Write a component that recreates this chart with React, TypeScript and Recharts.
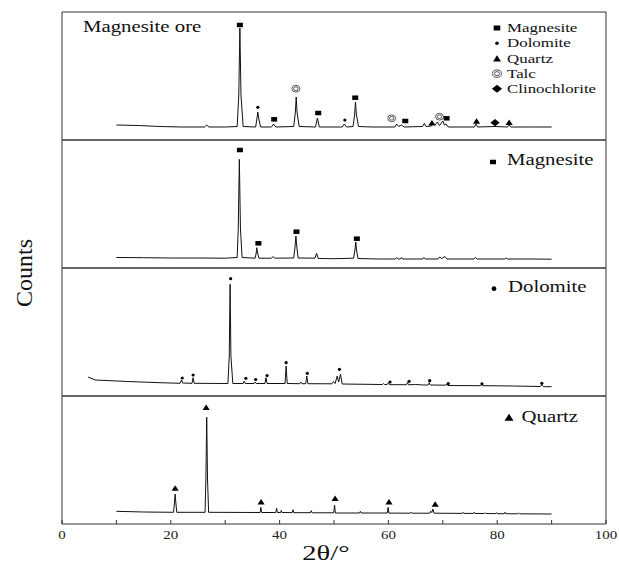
import { ComposedChart, Line, Scatter, XAxis, YAxis, ReferenceArea } from "recharts";

type Pt = [number, number];
type Mark = [number, number, string];

// 2θ (deg) vs relative counts, one array per sample
const ORE: Pt[] = [
  [10, 15], [14, 14.5], [18, 13.5], [22, 13], [26.2, 13], [26.6, 15], [27, 13], [30, 13],
  [32.2, 13.5], [32.5, 45], [32.7, 112], [32.9, 45], [33.3, 13.5],
  [35.6, 13], [35.85, 22], [36.0, 28], [36.15, 22], [36.5, 13],
  [38.5, 13], [38.9, 16], [39.3, 13],
  [42.6, 13.5], [42.9, 28], [43.05, 43], [43.2, 28], [43.6, 13.5],
  [46.6, 13], [46.95, 22], [47.3, 13],
  [51.5, 13], [51.9, 16], [52.3, 13],
  [53.5, 13.5], [53.8, 26], [53.95, 38], [54.1, 26], [54.5, 13.5],
  [57, 13], [61.2, 13], [61.5, 16], [61.9, 13.5], [62.4, 15], [62.9, 13],
  [66.3, 13.5], [66.6, 16.5], [66.9, 13.5], [67.9, 14], [68.2, 17], [68.6, 15], [69.0, 18],
  [69.4, 14.5], [70.0, 19], [70.3, 15], [70.6, 16], [71, 13],
  [75.8, 13], [76.1, 16], [76.4, 13], [79.6, 13.5], [81.9, 13], [82.2, 15], [82.5, 13],
  [86, 13], [90, 13],
];

const MAGNESITE: Pt[] = [
  [10, 10.5], [15, 10.3], [20, 10], [25, 10], [30, 9.8],
  [32.2, 10.5], [32.4, 40], [32.6, 108.7], [32.8, 40], [33.1, 10.5],
  [35.5, 9.8], [35.7, 15], [35.8, 20.3], [35.95, 15], [36.2, 9.8],
  [38.5, 9.8], [38.8, 11.5], [39.1, 9.8],
  [42.6, 10], [42.85, 22], [43.0, 32], [43.15, 22], [43.4, 10],
  [46.5, 9.8], [46.8, 14.7], [47.1, 9.5], [50, 9.3],
  [53.6, 9.8], [53.85, 18], [54.0, 26], [54.15, 18], [54.4, 9.5],
  [58, 9], [61.3, 9], [61.5, 10.5], [61.8, 9], [62.2, 9], [62.4, 10.5], [62.6, 9],
  [66.3, 9], [66.5, 10.5], [66.8, 9], [69.1, 9], [69.4, 11], [69.8, 9.5], [70.4, 11.5], [70.8, 9],
  [75.7, 9], [76.0, 10.5], [76.3, 9], [81.4, 9], [81.6, 10], [81.9, 9], [86, 9], [90, 8.8],
];

const DOLOMITE: Pt[] = [
  [4.8, 19], [6.1, 16], [12, 14.5], [18, 13.3], [21.7, 12.7], [21.85, 15], [22.0, 16], [22.15, 13],
  [23.9, 12.7], [24.1, 18.3], [24.3, 12.7],
  [30.5, 12.5], [30.75, 40], [30.9, 111.7], [31.05, 40], [31.4, 12.5],
  [33.3, 12.5], [33.5, 15], [33.7, 12.5], [35.3, 12.5], [35.5, 14], [35.7, 12.5],
  [37.3, 12.5], [37.5, 18.3], [37.7, 12.5], [41.0, 12.5], [41.2, 30], [41.4, 12.5],
  [43.7, 12.3], [43.9, 14], [44.1, 12.3], [44.8, 12.3], [45.0, 20], [45.2, 12.3],
  [49.6, 12.2], [49.9, 14.5], [50.2, 12.5], [50.6, 20], [50.85, 14], [51.2, 21.7], [51.5, 12],
  [58.9, 11.5], [59.1, 12.5], [59.3, 11.5], [59.8, 11.5], [60.0, 13.3], [60.2, 11.3],
  [62.5, 11.3], [63.3, 11.3], [63.5, 13.3], [63.7, 11.2], [65, 11.5], [66.5, 11],
  [67.3, 11], [67.5, 13.3], [67.7, 11], [70.5, 10.8], [70.7, 12], [70.9, 10.5],
  [76.9, 10.3], [77.1, 11.3], [77.3, 10.3], [83, 10], [87.9, 9.5], [88.2, 11], [88.5, 9.3], [90, 9.3],
];

const QUARTZ: Pt[] = [
  [10, 12.7], [15, 12], [20.5, 11.7], [20.65, 20], [20.8, 30], [20.95, 20], [21.1, 11.7],
  [26.3, 11.7], [26.45, 45], [26.6, 106.7], [26.75, 45], [26.95, 11.7],
  [36.4, 11.5], [36.55, 16.7], [36.7, 11.5], [39.3, 11.5], [39.45, 15.7], [39.6, 11.5],
  [40.2, 11.5], [40.3, 13.5], [40.45, 11.5], [42.3, 11.4], [42.45, 14.3], [42.6, 11.3],
  [45.7, 11.3], [45.8, 13.3], [46.0, 11.2], [49.95, 11.2], [50.1, 19], [50.25, 11],
  [54.7, 11], [54.85, 12.7], [55.0, 11], [59.8, 11], [59.95, 16.7], [60.1, 10.9],
  [64.0, 10.8], [64.15, 11.8], [64.3, 10.8], [67.6, 10.8], [67.75, 12.8], [68.0, 11.5], [68.15, 15], [68.4, 10.8],
  [73.5, 10.6], [73.7, 11.6], [73.9, 10.6], [75.6, 10.6], [75.75, 11.8], [75.9, 10.5],
  [77.6, 10.5], [77.75, 11.3], [77.9, 10.5], [79.7, 10.4], [79.85, 11.4], [80.0, 10.3],
  [81.3, 10.3], [81.45, 11.8], [81.6, 10.3], [83.8, 10.2], [83.95, 11], [84.1, 10.2], [90, 10],
];

// phase markers: 2θ, height, phase
const ORE_MARKS: Mark[] = [
  [32.7, 115, "sq"], [36.0, 32.7, "dot"], [39.0, 20.7, "sq"], [43.0, 51.3, "talc"], [47.1, 27, "sq"],
  [52.0, 20, "dot"], [53.9, 42.3, "sq"], [60.6, 21.7, "talc"], [63.1, 19, "sq"], [68.0, 17.3, "tri"],
  [69.4, 23.3, "talc"], [70.7, 21.7, "sq"], [76.2, 19, "tri"], [79.6, 17.3, "dia"], [82.2, 17.7, "tri"],
];
const MAGNESITE_MARKS: Mark[] = [
  [32.7, 118, "sq"], [36.1, 24.7, "sq"], [43.1, 36.3, "sq"], [54.2, 29.3, "sq"],
];
const DOLOMITE_MARKS: Mark[] = [
  [22.1, 18, "dot"], [24.1, 21, "dot"], [31.0, 117.3, "dot"], [33.8, 17.7, "dot"], [35.6, 16.5, "dot"],
  [37.7, 20.5, "dot"], [41.2, 33.3, "dot"], [45.1, 22.7, "dot"], [51.0, 26.7, "dot"], [60.3, 14, "dot"],
  [63.8, 14.7, "dot"], [67.6, 15.3, "dot"], [71.0, 12.5, "dot"], [77.2, 12.2, "dot"], [88.2, 12.7, "dot"],
];
const QUARTZ_MARKS: Mark[] = [
  [20.8, 36, "tri"], [26.5, 116.7, "tri"], [36.6, 22.3, "tri"], [50.2, 25.7, "tri"], [60.1, 22.3, "tri"], [68.6, 20, "tri"],
];

const LEGEND: [string, string][] = [
  ["sq", "Magnesite"], ["dot", "Dolomite"], ["tri", "Quartz"], ["talc", "Talc"], ["dia", "Clinochlorite"],
];

const X_TICKS = [0, 10, 20, 30, 40, 50, 60, 70, 80, 90, 100];
const X_LABELS = [0, 20, 40, 60, 80, 100];

const FONT = '"Liberation Serif", "Times New Roman", serif';
const STRETCH = 1.3;
const W = 619;
const LEFT = 62;
const RIGHT = 13;
const PANEL_H = 128;
const PAD = 6;
const AXIS_H = 48;

function Marker({ type, cx, cy, s = 1 }: { type: string; cx: number; cy: number; s?: number }) {
  if (type === "sq")
    return <rect x={cx - 3 * s} y={cy - 2.25 * s} width={6 * s} height={4.5 * s} fill="#000" />;
  if (type === "dot") return <circle cx={cx} cy={cy} r={1.6 * s} fill="#000" />;
  if (type === "tri")
    return (
      <polygon
        points={`${cx - 3.6 * s},${cy + 2.8 * s} ${cx + 3.6 * s},${cy + 2.8 * s} ${cx},${cy - 2.8 * s}`}
        fill="#000"
      />
    );
  if (type === "dia")
    return (
      <polygon
        points={`${cx - 4.6 * s},${cy} ${cx},${cy - 3.6 * s} ${cx + 4.6 * s},${cy} ${cx},${cy + 3.6 * s}`}
        fill="#000"
      />
    );
  return (
    <g fill="none" stroke="#555" strokeWidth={1}>
      <ellipse cx={cx} cy={cy} rx={4 * s} ry={3.4 * s} />
      <ellipse cx={cx} cy={cy} rx={2.2 * s} ry={1.8 * s} />
    </g>
  );
}

function AxisTick(props: any) {
  const { x, y, payload } = props;
  const v = payload.value;
  return (
    <g>
      <line x1={x} x2={x} y1={y} y2={y - 4} stroke="#333" strokeWidth={1} />
      {X_LABELS.includes(v) && (
        <text
          x={x}
          y={y + 15}
          textAnchor="middle"
          fontSize={11.5}
          fontFamily={FONT}
          fill="#222"
          transform={`translate(${x} 0) scale(${STRETCH} 1) translate(${-x} 0)`}
        >
          {v}
        </text>
      )}
    </g>
  );
}

function Panel({ top, points, marks, axis = false }: { top: number; points: Pt[]; marks: Mark[]; axis?: boolean }) {
  const pts = points.map(([x, y]) => ({ x, y }));
  const mk = marks.map(([x, y, t]) => ({ x, y, t }));
  const h = PAD + PANEL_H + (axis ? AXIS_H : PAD);
  return (
    <div style={{ position: "absolute", left: 0, top: top - PAD }}>
      <ComposedChart
        width={W}
        height={h}
        margin={{ top: PAD, right: RIGHT, bottom: axis ? 0 : PAD, left: LEFT }}
      >
        <XAxis
          type="number"
          dataKey="x"
          domain={[0, 100]}
          ticks={X_TICKS}
          interval={0}
          hide={!axis}
          height={AXIS_H}
          axisLine={false}
          tickLine={false}
          tickSize={0}
          tickMargin={0}
          tick={(p: any) => <AxisTick {...p} />}
          allowDataOverflow
        />
        <YAxis type="number" dataKey="y" domain={[0, PANEL_H]} hide allowDataOverflow />
        <ReferenceArea x1={0} x2={100} y1={0} y2={PANEL_H} stroke="#333" strokeWidth={1} fill="none" fillOpacity={0} />
        <Line
          data={pts}
          dataKey="y"
          type="linear"
          stroke="#111"
          strokeWidth={1}
          dot={false}
          isAnimationActive={false}
        />
        <Scatter
          data={mk}
          dataKey="y"
          isAnimationActive={false}
          shape={(p: any) => <Marker type={p.payload.t} cx={p.cx} cy={p.cy} />}
        />
      </ComposedChart>
    </div>
  );
}

function SText({ x, y, size, children }: { x: number; y: number; size: number; children: any }) {
  return (
    <text
      x={x}
      y={y}
      fontSize={size}
      fontFamily={FONT}
      fill="#111"
      transform={`translate(${x} 0) scale(${STRETCH} 1) translate(${-x} 0)`}
    >
      {children}
    </text>
  );
}

export default function App() {
  return (
    <div style={{ position: "absolute", left: 0, top: 0, width: W, height: 572, background: "#fff" }}>
      <Panel top={12} points={ORE} marks={ORE_MARKS} />
      <Panel top={140} points={MAGNESITE} marks={MAGNESITE_MARKS} />
      <Panel top={268} points={DOLOMITE} marks={DOLOMITE_MARKS} />
      <Panel top={396} points={QUARTZ} marks={QUARTZ_MARKS} axis />
      <svg
        width={W}
        height={572}
        style={{ position: "absolute", left: 0, top: 0, pointerEvents: "none" }}
      >
        <SText x={83} y={32} size={16}>Magnesite ore</SText>
        {LEGEND.map(([t, name], i) => {
          const cy = 28 + i * 15.2;
          return (
            <g key={name}>
              <Marker type={t} cx={497} cy={cy} s={1.1} />
              <SText x={507} y={cy + 4.3} size={13}>{name}</SText>
            </g>
          );
        })}
        <Marker type="sq" cx={493} cy={162} />
        <SText x={507} y={165} size={16}>Magnesite</SText>
        <Marker type="dot" cx={494} cy={288.7} s={1.5} />
        <SText x={508} y={292} size={16}>Dolomite</SText>
        <Marker type="tri" cx={509} cy={417.3} s={1.25} />
        <SText x={521.5} y={422} size={16}>Quartz</SText>
        <text
          transform="translate(31.5 273) rotate(-90)"
          textAnchor="middle"
          fontSize={24}
          fontFamily={FONT}
          fill="#111"
        >
          Counts
        </text>
        <text
          x={326}
          y={560}
          textAnchor="middle"
          fontSize={22}
          fontFamily={FONT}
          fill="#111"
          transform={`translate(326 0) scale(${STRETCH} 1) translate(-326 0)`}
        >
          2θ/°
        </text>
      </svg>
    </div>
  );
}
